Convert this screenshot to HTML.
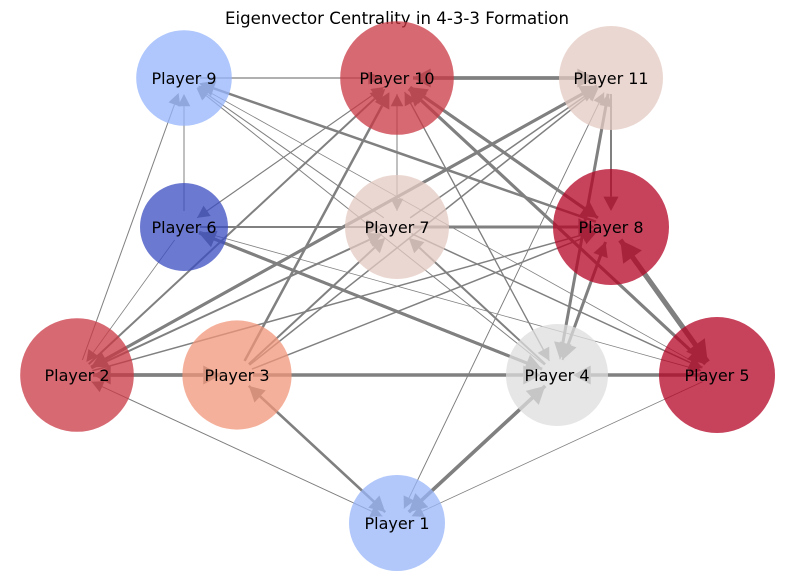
<!DOCTYPE html>
<html><head><meta charset="utf-8"><style>
body{margin:0;background:#fff;}
svg{display:block;font-family:"DejaVu Sans","Liberation Sans",sans-serif;}
</style></head><body>
<svg id="chart" width="794" height="581" viewBox="0 0 794 581">
<text x="397" y="24" text-anchor="middle" font-size="16.6" fill="#000">Eigenvector Centrality in 4-3-3 Formation</text>
<g id="edges"></g>
<g id="nodes"></g>
</svg>
<script>
const playerNames = ["Player 1","Player 2","Player 3","Player 4","Player 5","Player 6","Player 7","Player 8","Player 9","Player 10","Player 11"];
const posX = [397,77,237,557,717,184,397,611,184,397,611];
const posY = [523,375,375,375,375,227,227,227,78,78,78];
const centrality = [0.20,0.42,0.365,0.275,0.45,0.10,0.30,0.45,0.195,0.42,0.30];
// edges: source, target, weight
const edgeSrc = [9,11,10,6,2,8,7,4,5,2,3,6,7,8,5,4,10,10,10,2,11,3,7,1,4,11,11,6,2,3,4,7,2,3,4,8,5,10,6,7,6,4,10,8,5,3,1,4,1,3,2,1,5,11,6,2,3];
const edgeTgt = [10,10,11,9,9,9,9,9,9,10,10,10,10,10,10,10,6,7,8,11,2,11,11,11,11,8,4,7,7,7,7,8,8,8,8,5,8,5,5,5,4,6,4,4,4,4,4,1,3,1,1,2,1,1,2,3,2];
const edgeW   = [1.2,3.5,3.5,1,1,2.5,1,1,0.8,2,2.5,1,1,3,3,1.2,1,1,3,3,3,1.5,1.5,0.8,1.2,2,3,2,2,2,2,3,1.5,1.5,2,5,5,3,0.8,1.5,3,3,1.2,3,3.5,3.5,3.5,3.5,2.5,2.5,0.8,0.8,0.8,0.8,0.8,3.5,3.5];

function coolwarm(t){
  const s=[[0,[59,76,192]],[0.25,[141,176,254]],[0.5,[221,221,221]],[0.75,[244,154,123]],[1,[180,4,38]]];
  for(let i=0;i<s.length-1;i++){ if(t<=s[i+1][0]){ const f=(t-s[i][0])/(s[i+1][0]-s[i][0]); const a=s[i][1],b=s[i+1][1];
    return `rgb(${a.map((v,k)=>Math.round(v+(b[k]-v)*f)).join(',')})`; } }
  return 'rgb(180,4,38)';
}
const cmin=Math.min(...centrality), cmax=Math.max(...centrality);
const tOf=i=>(centrality[i]-cmin)/(cmax-cmin);
const rOf=i=>44+14*tOf(i);
const NS='http://www.w3.org/2000/svg';
const eg=document.getElementById('edges'), ng=document.getElementById('nodes');
for(let e=0;e<edgeSrc.length;e++){
  const s=edgeSrc[e]-1,t=edgeTgt[e]-1,w=edgeW[e];
  const dx=posX[t]-posX[s], dy=posY[t]-posY[s], L=Math.hypot(dx,dy), ux=dx/L, uy=dy/L;
  const tipD=L-16, hl=10+w*2.2, hw=5+w*1.3;
  const x1=posX[s]+ux*16, y1=posY[s]+uy*16;
  const tx=posX[s]+ux*tipD, ty=posY[s]+uy*tipD;
  const bx=tx-ux*hl, by=ty-uy*hl;
  const ln=document.createElementNS(NS,'line');
  ln.setAttribute('x1',x1);ln.setAttribute('y1',y1);ln.setAttribute('x2',bx);ln.setAttribute('y2',by);
  ln.setAttribute('stroke','#808080');ln.setAttribute('stroke-width',w);
  
  
  eg.appendChild(ln);
  const p=document.createElementNS(NS,'polygon');
  p.setAttribute('points',`${tx},${ty} ${bx-uy*hw},${by+ux*hw} ${bx+uy*hw},${by-ux*hw}`);
  p.setAttribute('fill','#808080');
  
  
  eg.appendChild(p);
}
for(let i=0;i<playerNames.length;i++){
  const c=document.createElementNS(NS,'circle');
  c.setAttribute('cx',posX[i]);c.setAttribute('cy',posY[i]);c.setAttribute('r',rOf(i));
  c.setAttribute('fill',coolwarm(tOf(i)));c.setAttribute('fill-opacity','0.75');
  
  
  ng.appendChild(c);
  const tx=document.createElementNS(NS,'text');
  tx.setAttribute('x',posX[i]);tx.setAttribute('y',posY[i]+6);tx.setAttribute('text-anchor','middle');
  tx.setAttribute('font-size','16');tx.textContent=playerNames[i];
  
  
  ng.appendChild(tx);
}
</script>
</body></html>
